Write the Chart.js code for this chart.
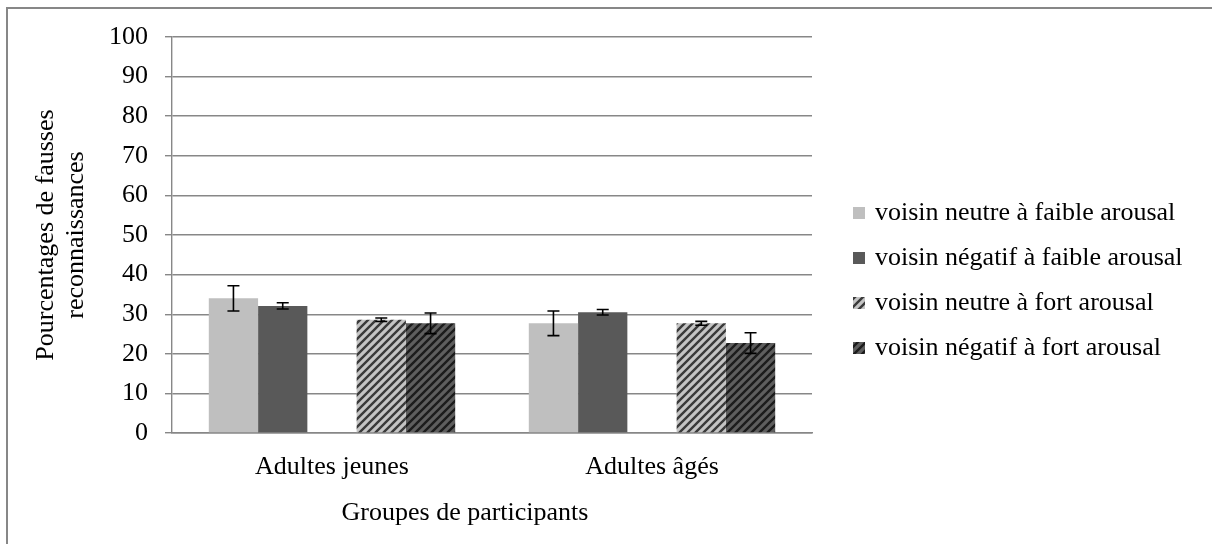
<!DOCTYPE html>
<html>
<head>
<meta charset="utf-8">
<script src="https://cdn.jsdelivr.net/npm/chart.js@4.4.0/dist/chart.umd.min.js"></script>
<style>
    html, body { margin: 0; padding: 0; background: #fff; }
    #wrap { position: relative; width: 1212px; height: 544px; overflow: hidden; }
    #frame { position: absolute; left: 6px; top: 7px; width: 1300px; height: 700px;
             border-left: 2px solid #878787; border-top: 2px solid #878787; }
    #box { position: absolute; left: 0; top: 0; width: 1212px; height: 544px; }
</style>
</head>
<body>
<div id="wrap">
    <div id="frame"></div>
    <div id="box"><canvas id="chart"></canvas></div>
</div>
<script>
const groups = ['Adultes jeunes', 'Adultes âgés'];
const seriesLabels = [
    'voisin neutre à faible arousal',
    'voisin négatif à faible arousal',
    'voisin neutre à fort arousal',
    'voisin négatif à fort arousal'
];
const neutreFaible = [34.0, 27.7];
const negatifFaible = [32.1, 30.5];
const neutreFort = [28.6, 27.7];
const negatifFort = [27.7, 22.7];

const errNeutreFaible = [3.2, 3.1];
const errNegatifFaible = [0.8, 0.7];
const errNeutreFort = [0.45, 0.5];
const errNegatifFort = [2.6, 2.6];

const yMin = 0;
const yMax = 100;
const yStep = 10;

const FONT = "'Liberation Serif', 'Times New Roman', serif";
const GRID = '#878787';

function hatch(bg, stripe) {
    const size = 8;
    const c = document.createElement('canvas');
    c.width = size;
    c.height = size;
    const g = c.getContext('2d');
    g.fillStyle = bg;
    g.fillRect(0, 0, size, size);
    g.strokeStyle = stripe;
    g.lineWidth = 2.4;
    g.beginPath();
    g.moveTo(-2, size + 2); g.lineTo(size + 2, -2);
    g.moveTo(-2, 2); g.lineTo(2, -2);
    g.moveTo(size - 2, size + 2); g.lineTo(size + 2, size - 2);
    g.stroke();
    return g.createPattern(c, 'repeat');
}

const lightGray = '#bfbfbf';
const darkGray = '#595959';
const lightHatch = hatch('#c4c4c4', '#3a3a3a');
const darkHatch = hatch('#5e5e5e', '#1c1c1c');

// error bars, drawn from each dataset's "errors" array
const errorBarPlugin = {
    id: 'errorBars',
    afterDatasetsDraw(chart) {
        const ctx = chart.ctx;
        const yScale = chart.scales.y;
        ctx.save();
        ctx.strokeStyle = '#000';
        ctx.lineWidth = 1.6;
        chart.data.datasets.forEach((ds, i) => {
            if (!ds.errors) return;
            const meta = chart.getDatasetMeta(i);
            meta.data.forEach((bar, j) => {
                const v = ds.data[j];
                if (v == null) return;
                const top = yScale.getPixelForValue(v + ds.errors[j]);
                const bottom = yScale.getPixelForValue(v - ds.errors[j]);
                const x = bar.x;
                ctx.beginPath();
                ctx.moveTo(x, top); ctx.lineTo(x, bottom);
                ctx.moveTo(x - 6, top); ctx.lineTo(x + 6, top);
                ctx.moveTo(x - 6, bottom); ctx.lineTo(x + 6, bottom);
                ctx.stroke();
            });
        });
        ctx.restore();
    }
};

// legend on the right and the x axis title
const sideLegendPlugin = {
    id: 'sideLegend',
    afterDraw(chart) {
        const ctx = chart.ctx;
        const items = chart.data.datasets.filter(d => d.label);
        ctx.save();
        ctx.font = '26px ' + FONT;
        ctx.textBaseline = 'middle';
        ctx.textAlign = 'left';
        items.forEach((ds, i) => {
            const y = 213 + i * 45;
            ctx.fillStyle = ds.backgroundColor;
            ctx.fillRect(853, y - 6, 12, 12);
            ctx.fillStyle = '#000';
            ctx.fillText(ds.label, 875, y);
        });
        ctx.textAlign = 'center';
        ctx.fillText('Groupes de participants', 465, 513);
        ctx.restore();
    }
};

Chart.defaults.font.family = FONT;
Chart.defaults.font.size = 26;
Chart.defaults.color = '#000';

new Chart(document.getElementById('chart'), {
    type: 'bar',
    data: {
        labels: groups,
        datasets: [
            { label: seriesLabels[0], data: neutreFaible, errors: errNeutreFaible, backgroundColor: lightGray },
            { label: seriesLabels[1], data: negatifFaible, errors: errNegatifFaible, backgroundColor: darkGray },
            { label: '', data: [null, null], backgroundColor: 'rgba(0,0,0,0)' },
            { label: seriesLabels[2], data: neutreFort, errors: errNeutreFort, backgroundColor: lightHatch },
            { label: seriesLabels[3], data: negatifFort, errors: errNegatifFort, backgroundColor: darkHatch }
        ]
    },
    options: {
        responsive: true,
        maintainAspectRatio: false,
        animation: false,
        categoryPercentage: 0.77,
        barPercentage: 1.0,
        layout: {
            padding: { top: 37, right: 400, bottom: 0, left: 0 }
        },
        plugins: {
            legend: { display: false },
            tooltip: { enabled: false }
        },
        scales: {
            x: {
                grid: { display: false, drawTicks: false },
                border: { display: true, color: GRID, width: 1.4 },
                ticks: { padding: 19, font: { size: 26 } },
                afterFit: scale => { scale.height = 111; }
            },
            y: {
                min: yMin,
                max: yMax,
                ticks: { stepSize: yStep, padding: 17, font: { size: 26 } },
                grid: { color: GRID, lineWidth: 1.4, tickLength: 7 },
                border: { color: GRID, width: 1.4 },
                title: {
                    display: true,
                    text: ['Pourcentages de fausses', 'reconnaissances'],
                    font: { size: 26, lineHeight: 1.15 },
                    padding: { top: 31, bottom: 0 }
                },
                afterFit: scale => { scale.width = 172; }
            }
        }
    },
    plugins: [errorBarPlugin, sideLegendPlugin]
});
</script>
</body>
</html>
